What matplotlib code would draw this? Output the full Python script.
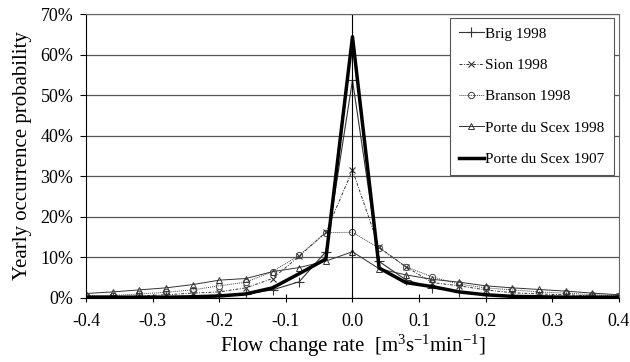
import numpy as np
import matplotlib
matplotlib.use("Agg")
import matplotlib.pyplot as plt
from matplotlib.ticker import FuncFormatter, MultipleLocator

plt.rcParams['font.family'] = ['Liberation Serif', 'DejaVu Serif']
plt.rcParams['mathtext.fontset'] = 'custom'
plt.rcParams['mathtext.rm'] = 'Liberation Serif'
plt.rcParams['mathtext.it'] = 'Liberation Serif:italic'

# flow change rate classes
rate = [-0.40, -0.36, -0.32, -0.28, -0.24, -0.20, -0.16, -0.12, -0.08, -0.04, 0.00,
        0.04, 0.08, 0.12, 0.16, 0.20, 0.24, 0.28, 0.32, 0.36, 0.40]

# yearly occurrence probability (%)
brig_1998 = [0.2, 0.2, 0.2, 0.2, 0.3, 0.5, 1.0, 2.0, 4.0, 11.4, 53.7,
             9.0, 4.5, 2.5, 1.5, 0.8, 0.4, 0.3, 0.3, 0.2, 0.2]
sion_1998 = [0.2, 0.3, 0.5, 0.8, 1.2, 1.5, 2.5, 4.8, 10.3, 16.2, 31.5,
             12.5, 7.7, 3.8, 3.0, 2.0, 1.3, 1.0, 0.8, 0.5, 0.4]
branson_1998 = [0.6, 0.6, 1.0, 1.4, 2.0, 3.0, 3.9, 6.5, 10.5, 16.1, 16.2,
                12.3, 7.7, 5.2, 3.4, 2.5, 2.0, 1.5, 1.2, 0.8, 0.6]
scex_1998 = [1.1, 1.5, 2.0, 2.5, 3.3, 4.4, 4.8, 6.5, 7.5, 9.1, 11.4,
             7.2, 5.7, 4.6, 3.9, 3.0, 2.5, 2.1, 1.7, 1.2, 0.8]
scex_1907 = [0.2, 0.2, 0.2, 0.2, 0.3, 0.5, 1.0, 2.5, 6.0, 9.6, 64.4,
             7.4, 3.8, 2.8, 1.5, 0.8, 0.4, 0.3, 0.2, 0.2, 0.2]

fig = plt.figure(figsize=(6.3, 3.62), dpi=100)
ax = fig.add_axes([0.1365, 0.1768, 0.846, 0.7845])

x = np.array(rate)
ax.plot(x, np.array(brig_1998) / 100, color='#333333', lw=0.8, marker='+', ms=7, mew=0.8,
        label='Brig 1998')
ax.plot(x, np.array(sion_1998) / 100, color='#333333', lw=0.7, ls=(0, (3, 1.5, 1, 1.5)),
        marker='x', ms=5, mew=0.8, label='Sion 1998')
ax.plot(x, np.array(branson_1998) / 100, color='#444444', lw=0.7, ls=(0, (1, 1)),
        marker='o', ms=4.5, mfc='none', mew=0.7, label='Branson 1998')
ax.plot(x, np.array(scex_1998) / 100, color='#333333', lw=0.7, marker='^', ms=5,
        mfc='none', mew=0.7, label='Porte du Scex 1998')
ax.plot(x, np.array(scex_1907) / 100, color='black', lw=2.5, label='Porte du Scex 1907')

ax.set_xlim(-0.4, 0.4)
ax.set_ylim(0, 0.7)
ax.xaxis.set_major_locator(MultipleLocator(0.1))
ax.yaxis.set_major_locator(MultipleLocator(0.1))
ax.xaxis.set_major_formatter(FuncFormatter(lambda v, p: '%.1f' % v))
ax.yaxis.set_major_formatter(FuncFormatter(lambda v, p: '%d%%' % round(v * 100)))
ax.yaxis.grid(True, color='#555555', lw=0.9)
ax.axvline(0, color='black', lw=0.8)
ax.set_axisbelow(True)

for s in ['top', 'right']:
    ax.spines[s].set_color('#666666')
ax.spines['left'].set_color('black')
ax.spines['bottom'].set_color('black')
ax.tick_params(axis='both', labelsize=13, length=4, color='black')
ax.tick_params(axis='y', direction='out', pad=5)
ax.tick_params(axis='x', direction='inout', length=6, pad=8)

ax.set_xlabel('Flow change rate  [m$^3$s$^{-1}$min$^{-1}$]', fontsize=15, labelpad=2)
ax.set_ylabel('Yearly occurrence probability', fontsize=15, labelpad=6)

leg = ax.legend(loc='upper right', bbox_to_anchor=(0.99, 0.986), fontsize=11,
                frameon=True, fancybox=False, edgecolor='#555555', framealpha=1,
                handlelength=1.6, handletextpad=0.1, labelspacing=1.15, borderpad=0.6,
                borderaxespad=0)
leg.get_frame().set_linewidth(0.8)

fig.savefig('out.png', dpi=100)
